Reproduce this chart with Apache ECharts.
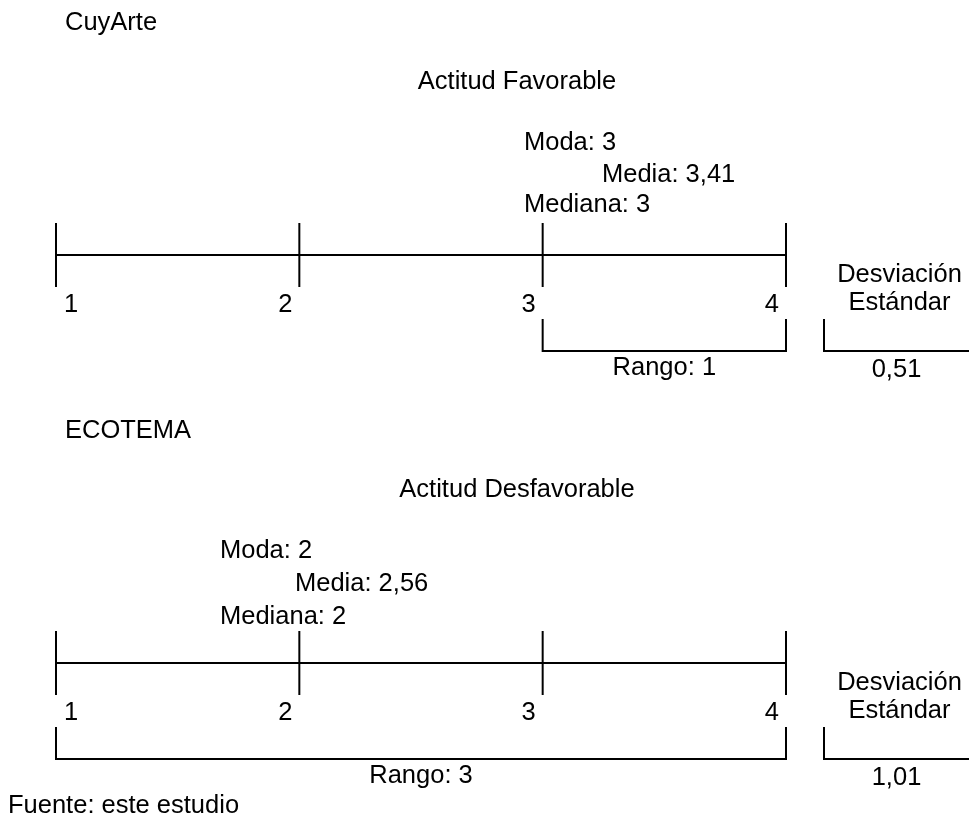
<!DOCTYPE html>
<html>
<head>
<meta charset="utf-8">
<script src="https://cdn.jsdelivr.net/npm/echarts@6/dist/echarts.min.js"></script>
<style>
  html, body { margin: 0; padding: 0; background: #fff; }
  #c1 { width: 969px; height: 818px; }
</style>
</head>
<body>
<div id="c1"></div>
<script>
// data
const panelNames = ['CuyArte', 'ECOTEMA']
const attitudes = ['Actitud Favorable', 'Actitud Desfavorable']
const scaleTicks = [1, 2, 3, 4]
const modes = [3, 2]
const means = [3.41, 2.56]
const medians = [3, 2]
const rangeMins = [3, 1]
const rangeMaxs = [4, 4]
const stdDevs = [0.51, 1.01]
const source = 'Fuente: este estudio'

// layout
const FONT = '"Liberation Sans", Arial, sans-serif'
const panels = [
  { lineY: 255, statX: 524, meanX: 602, statY: [143, 175, 205] },
  { lineY: 663, statX: 220, meanX: 295, statY: [551, 584, 617] }
]

const fmt = v => String(v).replace('.', ',')
const black = { color: '#000', width: 2, opacity: 1 }

const grid = [], xAxis = [], yAxis = [], series = []
panels.forEach((p, i) => {
  const top = p.lineY - 32
  grid.push({ left: 56, right: 183, top, height: 128 })
  grid.push({ left: 824, right: 0, top, height: 128 })
  xAxis.push({ type: 'value', gridIndex: 2 * i, min: scaleTicks[0], max: scaleTicks[scaleTicks.length - 1], show: false })
  xAxis.push({ type: 'value', gridIndex: 2 * i + 1, min: 0, max: 1, show: false })
  yAxis.push({ type: 'value', gridIndex: 2 * i, min: -3, max: 1, show: false })
  yAxis.push({ type: 'value', gridIndex: 2 * i + 1, min: -3, max: 1, show: false })
  // scale line, ticks, range bracket
  series.push({
    type: 'lines', coordinateSystem: 'cartesian2d',
    xAxisIndex: 2 * i, yAxisIndex: 2 * i,
    polyline: true, silent: true, clip: false,
    lineStyle: black,
    data: [
      { coords: [[scaleTicks[0], 0], [scaleTicks[scaleTicks.length - 1], 0]] },
      ...scaleTicks.map(v => ({ coords: [[v, 1], [v, -1]] })),
      { coords: [[rangeMins[i], -2], [rangeMins[i], -3], [rangeMaxs[i], -3], [rangeMaxs[i], -2]] }
    ]
  })
  // std deviation bracket
  series.push({
    type: 'lines', coordinateSystem: 'cartesian2d',
    xAxisIndex: 2 * i + 1, yAxisIndex: 2 * i + 1,
    polyline: true, silent: true, clip: false,
    lineStyle: black,
    data: [{ coords: [[0, -2], [0, -3], [1, -3]] }]
  })
})

const myChart = echarts.init(document.getElementById('c1'))
myChart.setOption({ animation: false, grid, xAxis, yAxis, series })

const txt = (x, y, text, align) => ({
  type: 'text', x, y, silent: true,
  style: { text, fill: '#000', fontSize: 25.5, fontFamily: FONT, lineHeight: 28, align: align || 'left', verticalAlign: 'middle' }
})

const graphic = []
panels.forEach((p, i) => {
  const toPx = (v, y) => myChart.convertToPixel({ xAxisIndex: 2 * i, yAxisIndex: 2 * i }, [v, y])
  const stdPx = (v, y) => myChart.convertToPixel({ xAxisIndex: 2 * i + 1, yAxisIndex: 2 * i + 1 }, [v, y])
  const lineY = toPx(scaleTicks[0], 0)[1]
  graphic.push(txt(65, lineY - 232, panelNames[i]))
  graphic.push(txt(517, lineY - 173, attitudes[i], 'center'))
  graphic.push(txt(p.statX, p.statY[0], 'Moda: ' + fmt(modes[i])))
  graphic.push(txt(p.meanX, p.statY[1], 'Media: ' + fmt(means[i])))
  graphic.push(txt(p.statX, p.statY[2], 'Mediana: ' + fmt(medians[i])))
  scaleTicks.forEach((v, k) => {
    const x = toPx(v, 0)[0]
    graphic.push(k === 0 ? txt(x + 8, lineY + 50, String(v)) : txt(x - 7, lineY + 50, String(v), 'right'))
  })
  const a = toPx(rangeMins[i], -3), b = toPx(rangeMaxs[i], -3)
  graphic.push(txt((a[0] + b[0]) / 2, a[1] + 16.5, 'Rango: ' + fmt(rangeMaxs[i] - rangeMins[i]), 'center'))
  const s = stdPx(0.5, -3)
  graphic.push(txt(s[0] + 3, lineY + 34, 'Desviación\nEstándar', 'center'))
  graphic.push(txt(s[0], s[1] + 19, fmt(stdDevs[i]), 'center'))
})
graphic.push(txt(8, 806, source))

myChart.setOption({ graphic })
</script>
</body>
</html>
